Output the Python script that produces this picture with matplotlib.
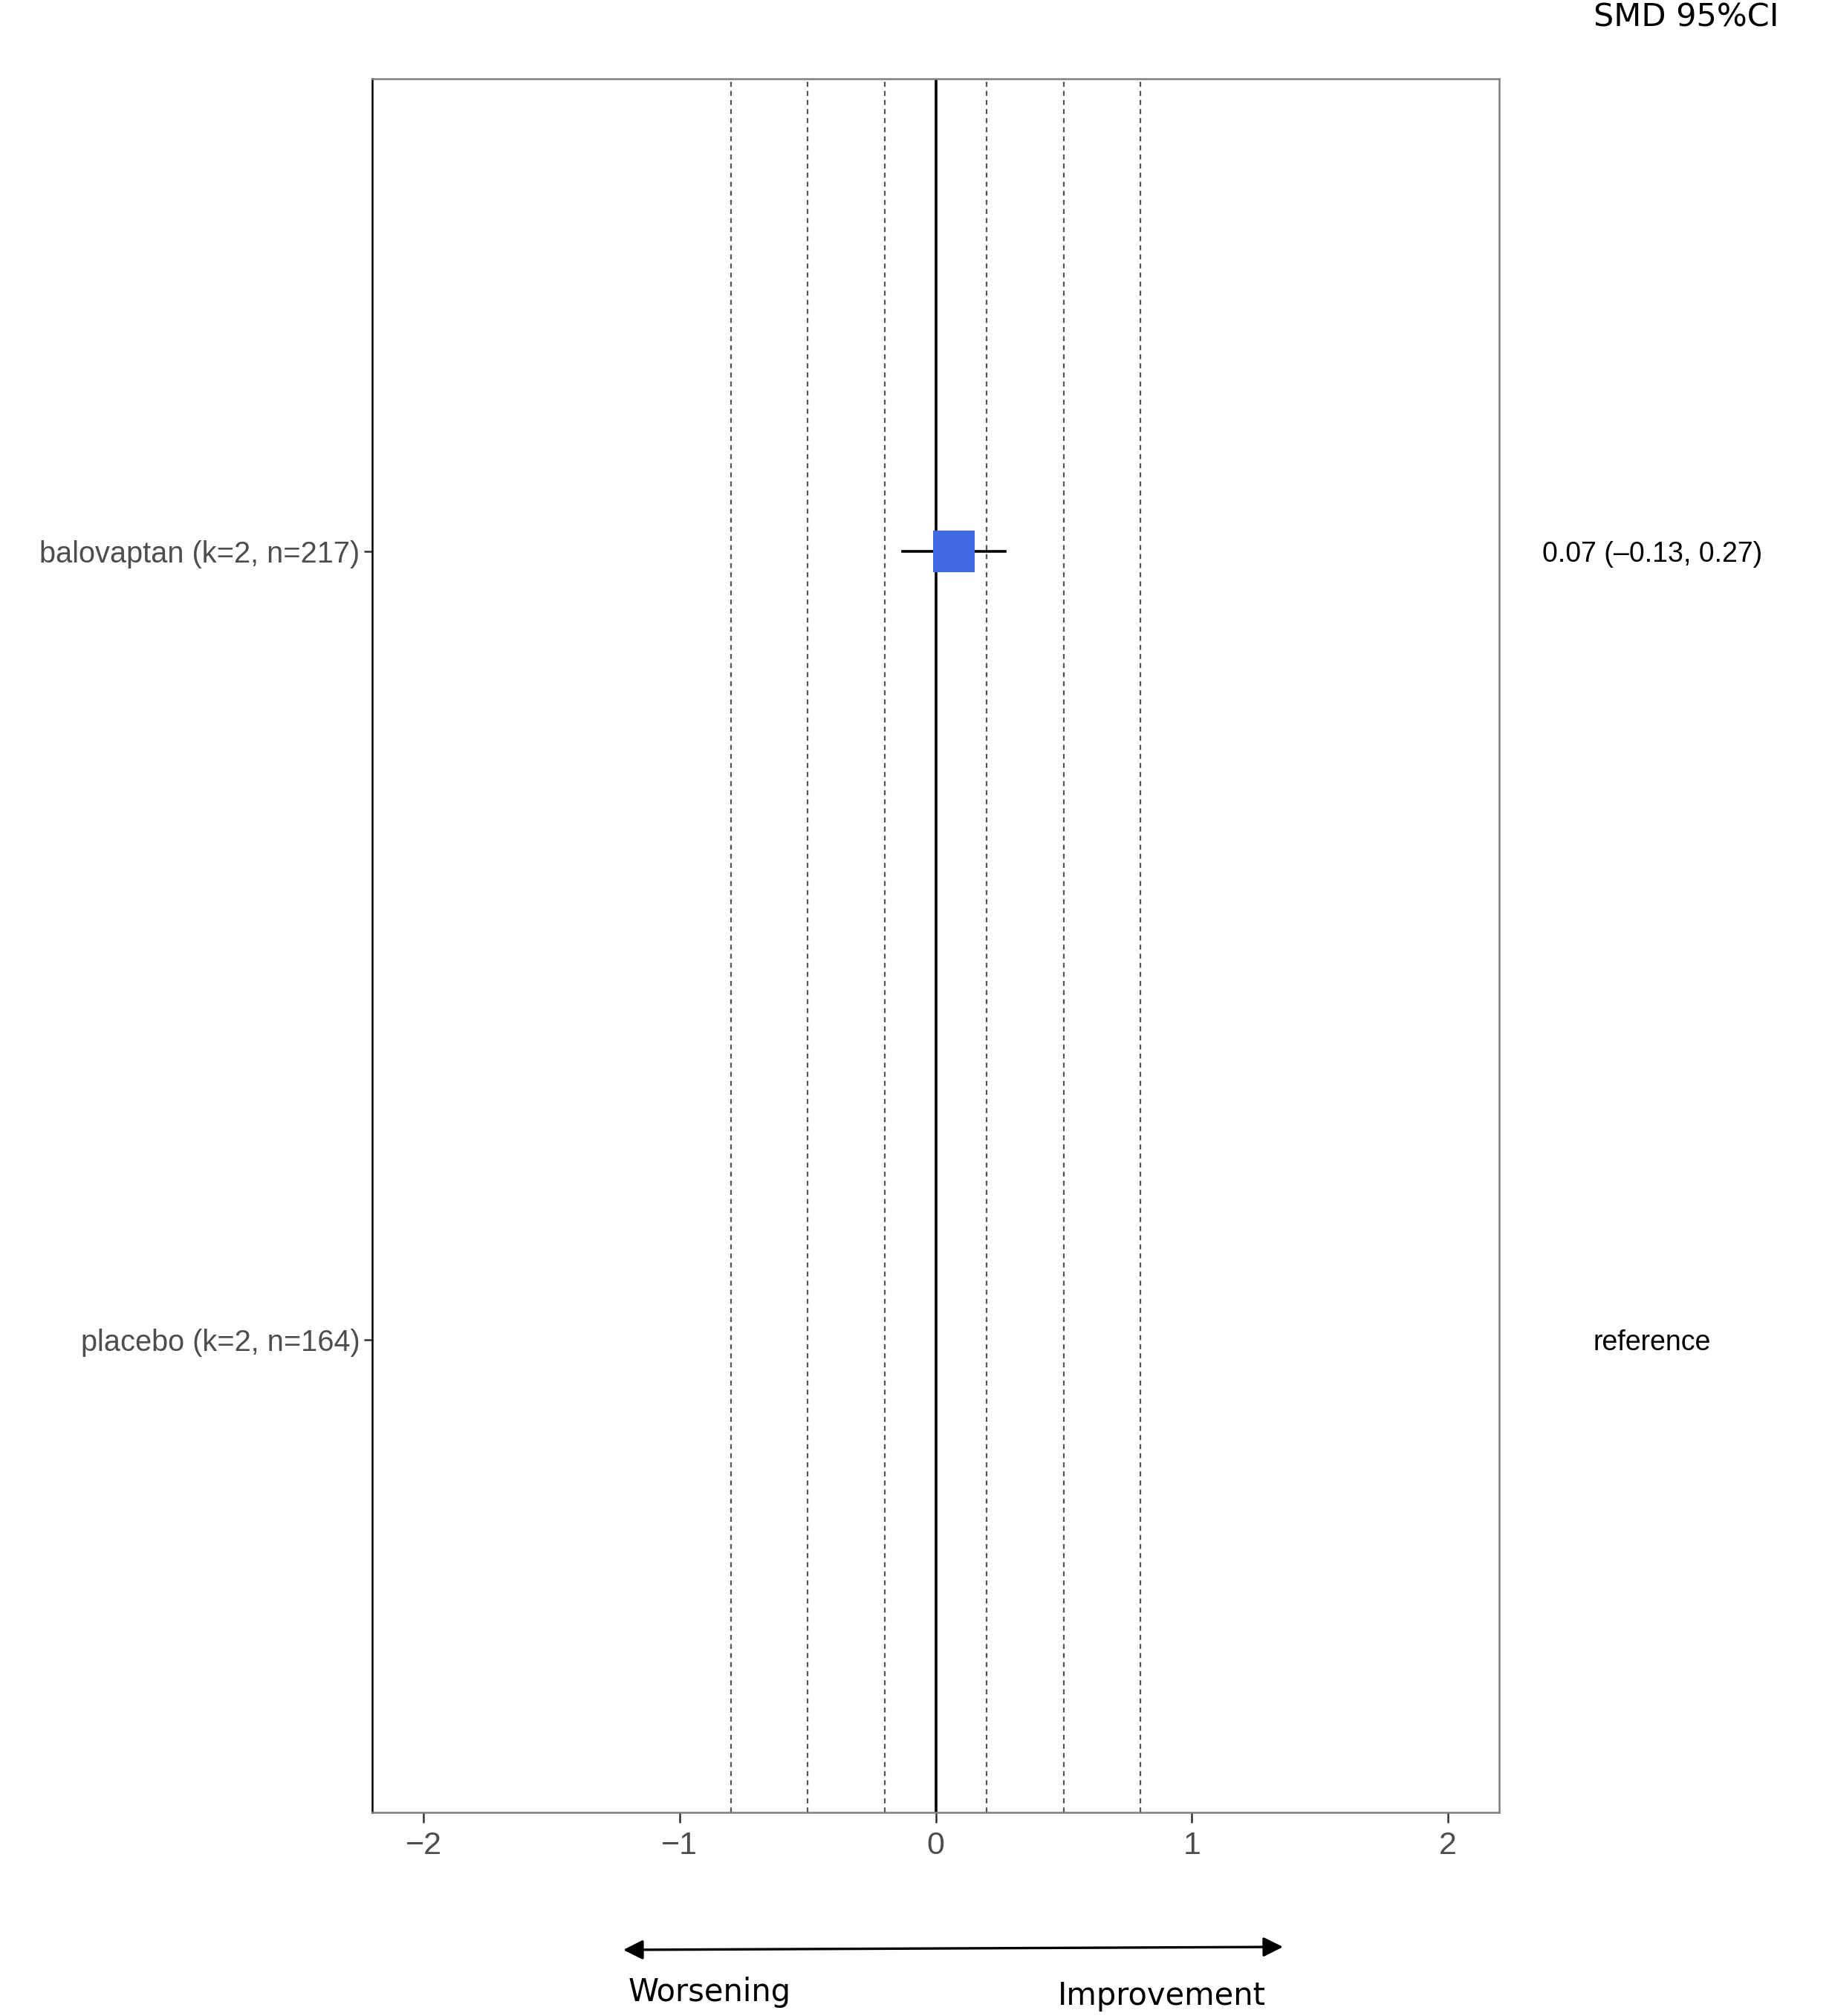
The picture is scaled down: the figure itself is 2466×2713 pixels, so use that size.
import matplotlib
matplotlib.use("Agg")
import matplotlib.pyplot as plt
import numpy as np

treatments = ["placebo (k=2, n=164)", "balovaptan (k=2, n=217)"]
smd = [np.nan, 0.07]
ci_low = [np.nan, -0.13]
ci_high = [np.nan, 0.27]
right_labels = ["reference", "0.07 (\u20130.13, 0.27)"]
ref_lines = [-0.8, -0.5, -0.2, 0.2, 0.5, 0.8]
xticks = [-2, -1, 0, 1, 2]
xtick_labels = ["\u22122", "\u22121", "0", "1", "2"]

W, H = 2466, 2713
dpi = 200
fig = plt.figure(figsize=(W / dpi, H / dpi), dpi=dpi)
fig.patch.set_facecolor("white")

left, right, top, bottom = 501, 2018, 106, 2439
ax = fig.add_axes([left / W, 1 - bottom / H, (right - left) / W, (bottom - top) / H])
ax.set_xlim(-2.2, 2.2)
ax.set_ylim(0.4, 2.6)

for x in ref_lines:
    ax.axvline(x, color="#555555", lw=0.8, ls=(0, (3, 2.5)), zorder=1)
ax.axvline(0, color="black", lw=1.3, zorder=2)

y = np.arange(1, len(treatments) + 1)
for yi, m, lo, hi in zip(y, smd, ci_low, ci_high):
    if np.isnan(m):
        continue
    ax.plot([lo, hi], [yi, yi], color="black", lw=1.3, zorder=3)
    ax.plot([m], [yi], marker="s", markersize=20.5, color="#4169E1",
            markeredgewidth=0, zorder=4, linestyle="none")

ax.set_yticks(y)
ax.set_yticklabels(treatments, family="Liberation Sans", fontsize=14.3, color="#4d4d4d")
ax.set_xticks(xticks)
ax.set_xticklabels(xtick_labels, family="Liberation Sans", fontsize=15.5, color="#4d4d4d")
ax.tick_params(axis="x", direction="out", length=5, width=0.9, color="#333333", pad=4)
ax.tick_params(axis="y", direction="out", length=4, width=0.9, color="#333333", pad=2)

for s in ["top", "right", "bottom"]:
    ax.spines[s].set_color("#7f7f7f")
    ax.spines[s].set_linewidth(0.9)
ax.spines["left"].set_color("black")
ax.spines["left"].set_linewidth(0.9)

# right-hand labels
trans = matplotlib.transforms.blended_transform_factory(fig.transFigure, ax.transData)
for yi, lab in zip(y, right_labels):
    ax.text(2224 / W, yi, lab, transform=trans, ha="center", va="center_baseline",
            family="Liberation Sans", fontsize=13.5, color="black")

fig.text(2270 / W, 1 - 24 / H, "SMD 95%CI", ha="center", va="center",
         family="DejaVu Sans", fontsize=15.5, color="black")

# bottom arrow and labels
ax2 = fig.add_axes([0, 0, 1, 1], facecolor="none")
ax2.set_xlim(0, W)
ax2.set_ylim(H, 0)
ax2.axis("off")
ax2.annotate("", xy=(839, 2624), xytext=(1727, 2620),
             arrowprops=dict(arrowstyle="<|-|>", color="black", lw=1.2,
                             mutation_scale=20, shrinkA=0, shrinkB=0))
ax2.text(955, 2681, "Worsening", ha="center", va="center", family="DejaVu Sans",
         fontsize=15, color="black")
ax2.text(1564, 2686, "Improvement", ha="center", va="center", family="DejaVu Sans",
         fontsize=15, color="black")

fig.savefig("out.png", dpi=dpi, facecolor="white")
